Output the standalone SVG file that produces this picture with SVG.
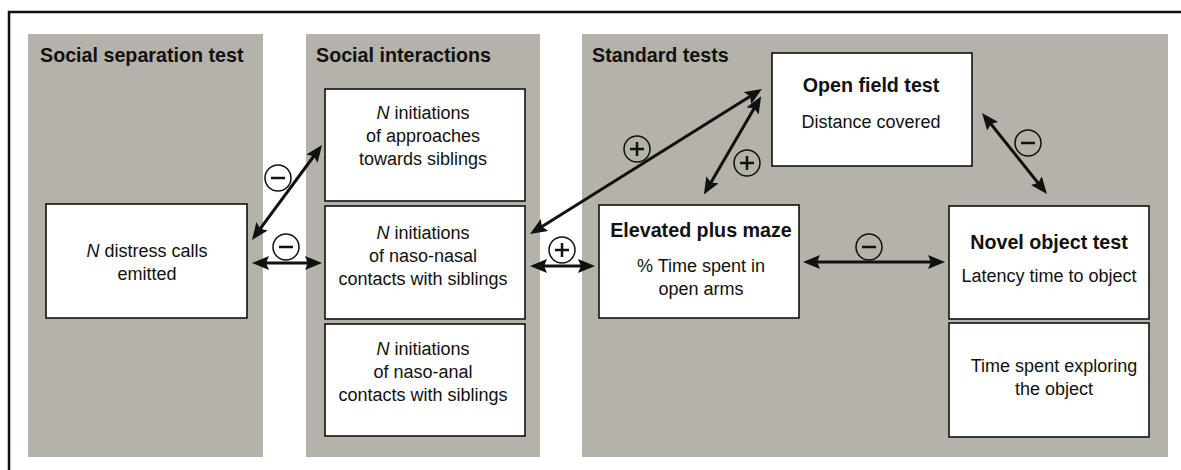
<svg xmlns="http://www.w3.org/2000/svg" width="1181" height="470" viewBox="0 0 1181 470">
<style>
.panel{fill:#b4b2a9;stroke:none}
.box{fill:#fff;stroke:#111;stroke-width:1.6}
.t{font-family:"Liberation Sans",Arial,sans-serif;font-size:18px;fill:#111;text-anchor:middle}
.b{font-family:"Liberation Sans",Arial,sans-serif;font-size:19.7px;font-weight:bold;fill:#111}
.bc{text-anchor:middle}
.con{stroke:#111;stroke-width:3;fill:none;marker-start:url(#ah);marker-end:url(#ah)}
.sgn{fill:none;stroke:#111;stroke-width:1.5}
.bar{stroke:#111;stroke-width:2.5}
</style>
<defs>
<marker id="ah" markerUnits="userSpaceOnUse" markerWidth="18" markerHeight="15" refX="7" refY="7" orient="auto-start-reverse">
<path d="M0,0 L17,7 L0,14 L3,7 z" fill="#111"/>
</marker>
</defs>
<rect x="0" y="0" width="1181" height="470" fill="#fff"/>
<rect x="9" y="12" width="1200" height="500" fill="none" stroke="#111" stroke-width="2.5"/>
<g id="panel-social-separation">
<rect class="panel" x="28" y="34" width="235" height="423"/>
<text class="b" x="40" y="62">Social separation test</text>
</g>
<g id="panel-social-interactions">
<rect class="panel" x="306" y="34" width="234" height="423"/>
<text class="b" x="316" y="62">Social interactions</text>
</g>
<g id="panel-standard-tests">
<rect class="panel" x="582" y="34" width="586" height="423"/>
<text class="b" x="592" y="62">Standard tests</text>
</g>
<g id="node-distress">
<rect class="box" x="46" y="204" width="201" height="114"/>
<text class="t" x="147" y="257"><tspan font-style="italic">N</tspan> distress calls</text>
<text class="t" x="147" y="280">emitted</text>
</g>
<g id="node-approaches">
<rect class="box" x="325" y="89" width="200" height="112"/>
<text class="t" x="423" y="119"><tspan font-style="italic">N</tspan> initiations</text>
<text class="t" x="423" y="142">of approaches</text>
<text class="t" x="423" y="165">towards siblings</text>
</g>
<g id="node-naso-nasal">
<rect class="box" x="325" y="206" width="200" height="113"/>
<text class="t" x="423" y="239"><tspan font-style="italic">N</tspan> initiations</text>
<text class="t" x="423" y="262">of naso-nasal</text>
<text class="t" x="423" y="285">contacts with siblings</text>
</g>
<g id="node-naso-anal">
<rect class="box" x="325" y="324" width="200" height="112"/>
<text class="t" x="423" y="355"><tspan font-style="italic">N</tspan> initiations</text>
<text class="t" x="423" y="378">of naso-anal</text>
<text class="t" x="423" y="401">contacts with siblings</text>
</g>
<g id="node-open-field">
<rect class="box" x="772" y="53" width="200" height="113"/>
<text class="b bc" x="871" y="92">Open field test</text>
<text class="t" x="871" y="128">Distance covered</text>
</g>
<g id="node-elevated">
<rect class="box" x="599" y="205" width="200" height="113"/>
<text class="b bc" x="701" y="237">Elevated plus maze</text>
<text class="t" x="701" y="272">% Time spent in</text>
<text class="t" x="701" y="295">open arms</text>
</g>
<g id="node-novel">
<rect class="box" x="949" y="206" width="200" height="113"/>
<text class="b bc" x="1049" y="249">Novel object test</text>
<text class="t" x="1049" y="282">Latency time to object</text>
</g>
<g id="node-exploring">
<rect class="box" x="949" y="323" width="200" height="114"/>
<text class="t" x="1054" y="372">Time spent exploring</text>
<text class="t" x="1054" y="395">the object</text>
</g>
<g id="connectors">
<line class="con" x1="257.9" y1="231.9" x2="316.1" y2="153"/>
<line class="con" x1="262" y1="263" x2="312" y2="263"/>
<line class="con" x1="538.5" y1="228.7" x2="753.5" y2="94.3"/>
<line class="con" x1="540" y1="266" x2="585" y2="266"/>
<line class="con" x1="708.9" y1="185.9" x2="756.1" y2="104.9"/>
<line class="con" x1="988.3" y1="120.8" x2="1040.7" y2="186.2"/>
<line class="con" x1="813" y1="262" x2="935" y2="262"/>
<g id="signs">
<circle class="sgn" cx="278" cy="178" r="13"/><line class="bar" x1="271" y1="178" x2="285" y2="178"/>
<circle class="sgn" cx="286" cy="247" r="13"/><line class="bar" x1="279" y1="247" x2="293" y2="247"/>
<circle class="sgn" cx="637" cy="149" r="13"/><line class="bar" x1="630" y1="149" x2="644" y2="149"/><line class="bar" x1="637" y1="142" x2="637" y2="156"/>
<circle class="sgn" cx="562" cy="250" r="13"/><line class="bar" x1="555" y1="250" x2="569" y2="250"/><line class="bar" x1="562" y1="243" x2="562" y2="257"/>
<circle class="sgn" cx="747" cy="163" r="13"/><line class="bar" x1="740" y1="163" x2="754" y2="163"/><line class="bar" x1="747" y1="156" x2="747" y2="170"/>
<circle class="sgn" cx="1028" cy="143" r="13"/><line class="bar" x1="1021" y1="143" x2="1035" y2="143"/>
<circle class="sgn" cx="869" cy="247" r="13"/><line class="bar" x1="862" y1="247" x2="876" y2="247"/>
</g>
</g>
</svg>
